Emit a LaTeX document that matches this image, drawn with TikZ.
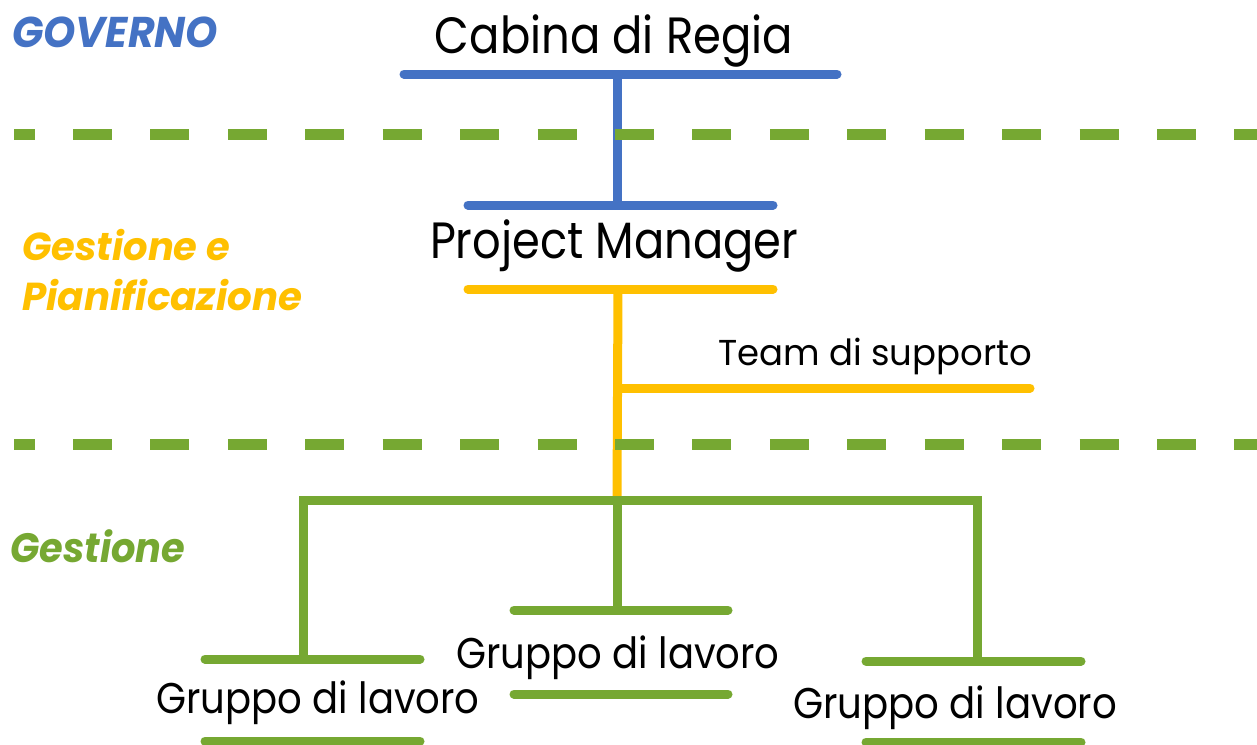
\documentclass[tikz,border=0pt]{standalone}
\usepackage{fontspec}
\setmainfont{Poppins}
\usepackage{graphicx}
\definecolor{gblue}{HTML}{4472C4}
\definecolor{gyellow}{HTML}{FFC000}
\definecolor{ggreen}{HTML}{76A832}
\newcommand\fitw[2]{\resizebox{#1}{\height}{#2}}
\begin{document}
\begin{tikzpicture}[x=1pt,y=-1pt,
  bar/.style={line width=9pt, line cap=round},
  stem/.style={line width=9pt, line cap=butt},
  sep/.style={ggreen, line width=11pt, line cap=butt, dash pattern=on 39pt off 38.43pt, dash phase=18.43pt},
  txt/.style={inner sep=0pt, anchor=base, text=black},
  side/.style={inner sep=0pt, anchor=base west, font=\bfseries\itshape\fontsize{43}{43}\selectfont}]
\useasboundingbox (0,0) rectangle (1257,744);

% side labels
\node[side, text=gblue] (lgov) at (12,47) {\fitw{206pt}{GOVERNO}};
\node[side, text=gyellow, font=\bfseries\itshape\fontsize{39}{39}\selectfont] (lges1) at (22,260) {\fitw{208pt}{Gestione e}};
\node[side, text=gyellow, font=\bfseries\itshape\fontsize{39}{39}\selectfont] (lges2) at (22,310) {\fitw{280pt}{Pianificazione}};
\node[side, text=ggreen, font=\bfseries\itshape\fontsize{41}{41}\selectfont] (lges3) at (10,562) {\fitw{175pt}{Gestione}};

% texts
\node[txt, font=\fontsize{51}{51}\selectfont] (cab) at (614,53) {\fitw{358pt}{Cabina di Regia}};
\node[txt, font=\fontsize{51}{51}\selectfont] (pm) at (614,258) {\fitw{368pt}{Project Manager}};
\node[txt, font=\fontsize{36}{36}\selectfont] (team) at (875,365) {\fitw{314pt}{Team di supporto}};
\node[txt, font=\fontsize{43}{43}\selectfont] (g1) at (318,713) {\fitw{323pt}{Gruppo di lavoro}};
\node[txt, font=\fontsize{43}{43}\selectfont] (g2) at (618,668) {\fitw{323pt}{Gruppo di lavoro}};
\node[txt, font=\fontsize{43}{43}\selectfont] (g3) at (955,718) {\fitw{324pt}{Gruppo di lavoro}};

% coordinates
\coordinate (s1a) at (14,134); \coordinate (s1b) at (1257,134);
\coordinate (s2a) at (14,444); \coordinate (s2b) at (1257,444);
\coordinate (cabL) at (404,74); \coordinate (cabR) at (837,74); \coordinate (cabM) at (617,74);
\coordinate (pmaL) at (468,205); \coordinate (pmaR) at (773,205); \coordinate (pmaM) at (617,205);
\coordinate (pmbL) at (468,289); \coordinate (pmbR) at (773,289); \coordinate (pmbM) at (618,289);
\coordinate (tmL) at (618,388); \coordinate (tmR) at (1030,388);
\coordinate (brL) at (303,500); \coordinate (brM) at (617,500); \coordinate (brR) at (977,500);
\coordinate (g1aL) at (205,659); \coordinate (g1aR) at (420,659); \coordinate (g1aM) at (303,659);
\coordinate (g1bL) at (205,741); \coordinate (g1bR) at (420,741);
\coordinate (g2aL) at (514,610); \coordinate (g2aR) at (728,610); \coordinate (g2aM) at (617,610);
\coordinate (g2bL) at (514,694); \coordinate (g2bR) at (728,694);
\coordinate (g3aL) at (866,661); \coordinate (g3aR) at (1081,661); \coordinate (g3aM) at (977,661);
\coordinate (g3bL) at (866,742); \coordinate (g3bR) at (1081,742);

% blue
\draw[stem, gblue] (cabM) -- (pmaM);
\draw[bar, gblue] (cabL) -- (cabR);
\draw[bar, gblue] (pmaL) -- (pmaR);

% yellow
\draw[stem, gyellow] (pmbM) -- (brM);
\draw[bar, gyellow] (pmbL) -- (pmbR);
\draw[bar, gyellow, line cap=butt] (tmL) -- ([xshift=-4.5pt]tmR);
\draw[bar, gyellow] ([xshift=-5pt]tmR) -- (tmR);

% separators (on top of the stems)
\draw[sep] (s1a) -- (s1b);
\draw[sep] (s2a) -- (s2b);

% green bracket
\draw[stem, ggreen, line join=miter] (g1aM) -- (brL) -- (brR) -- (g3aM);
\draw[stem, ggreen] (brM) -- (g2aM);
\draw[bar, ggreen] (g1aL) -- (g1aR);
\draw[bar, ggreen] (g1bL) -- (g1bR);
\draw[bar, ggreen] (g2aL) -- (g2aR);
\draw[bar, ggreen] (g2bL) -- (g2bR);
\draw[bar, ggreen] (g3aL) -- (g3aR);
\draw[bar, ggreen] (g3bL) -- (g3bR);
\end{tikzpicture}
\end{document}
